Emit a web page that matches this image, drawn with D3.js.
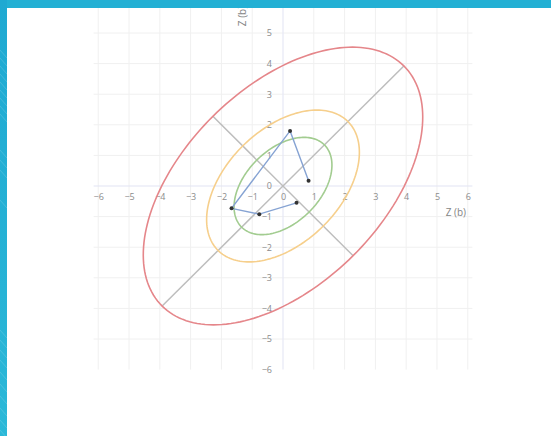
<!DOCTYPE html>
<html>
<head>
<meta charset="utf-8">
<script src="https://cdn.jsdelivr.net/npm/d3@7"></script>
<style>
    html, body { margin: 0; padding: 0; background: #fff; }
    svg { display: block; }
</style>
</head>
<body>
<svg id="chart"></svg>
<script>
// 数据
const xTicks = [-6, -5, -4, -3, -2, -1, 0, 1, 2, 3, 4, 5, 6];
const yTicks = [-6, -5, -4, -3, -2, -1, 0, 1, 2, 3, 4, 5];
const gridX = [-6, -5, -4, -3, -2, -1, 1, 2, 3, 4, 5, 6];
const gridY = [-5, -4, -3, -2, -1, 1, 2, 3, 4, 5];

// 点 (顺序 = 折线顺序)
const pointX = [0.83, 0.23, -1.67, -0.77, 0.44];
const pointY = [0.17, 1.80, -0.73, -0.92, -0.55];

// 椭圆: 半长轴, 半短轴, 角度
const ellipseName = ['inner', 'middle', 'outer'];
const ellipseA = [1.9, 2.98, 5.55];
const ellipseB = [1.2, 1.85, 3.22];
const ellipseAngle = [45, 45, 45];
const ellipseColor = ['#a2cc90', '#f6cf8c', '#e5868a'];

const axisTitle = 'Z (b)';

let width = 551, height = 436;
let svg = d3.select('#chart').attr('width', width).attr('height', height);

// 比例尺
let x = d3.scaleLinear().domain([-6.15, 6.15]).range([93.6, 472.4]);
let y = d3.scaleLinear().domain([-6.0, 6.0]).range([369.6, 2.4]);

let g = svg.append('g');

// 网格
g.selectAll('.gx').data(gridX).enter().append('line')
    .attr('x1', d => x(d)).attr('x2', d => x(d))
    .attr('y1', y.range()[1]).attr('y2', y.range()[0])
    .attr('stroke', '#f0f0f0').attr('stroke-width', 1);
g.selectAll('.gy').data(gridY).enter().append('line')
    .attr('y1', d => y(d)).attr('y2', d => y(d))
    .attr('x1', x.range()[0]).attr('x2', x.range()[1])
    .attr('stroke', '#f0f0f0').attr('stroke-width', 1);

// 零线
g.append('line')
    .attr('x1', x.range()[0]).attr('x2', x.range()[1])
    .attr('y1', y(0)).attr('y2', y(0))
    .attr('stroke', '#e2e4f4').attr('stroke-width', 1.2);
g.append('line')
    .attr('x1', x(0)).attr('x2', x(0))
    .attr('y1', y.range()[1]).attr('y2', y.range()[0])
    .attr('stroke', '#e6e8f5').attr('stroke-width', 1.2);

// 坐标轴 (标签在零线旁边)
let xAxis = g.append('g')
    .attr('transform', 'translate(0,' + y(0) + ')')
    .call(d3.axisBottom(x).tickValues(xTicks).tickSize(0).tickPadding(8));
let yAxis = g.append('g')
    .attr('transform', 'translate(' + x(0) + ',0)')
    .call(d3.axisLeft(y).tickValues(yTicks).tickSize(0).tickPadding(11));
[xAxis, yAxis].forEach(a => {
    a.select('.domain').remove();
    a.selectAll('text')
        .attr('font-family', '"Open Sans", sans-serif')
        .attr('font-size', 9)
        .attr('fill', '#8c8c8c');
});

// 轴标题
g.append('text')
    .attr('x', 466).attr('y', 216)
    .attr('text-anchor', 'end')
    .attr('font-family', '"Open Sans", sans-serif')
    .attr('font-size', 10)
    .attr('fill', '#858585')
    .text(axisTitle);
g.append('text')
    .attr('transform', 'translate(246,16) rotate(-90)')
    .attr('text-anchor', 'middle')
    .attr('font-family', '"Open Sans", sans-serif')
    .attr('font-size', 10)
    .attr('fill', '#858585')
    .text(axisTitle);

// 主轴线 (外椭圆的长轴与短轴)
let outer = 2;
let rad = ellipseAngle[outer] * Math.PI / 180;
let axesEnds = [
    [ellipseA[outer], rad],
    [ellipseB[outer], rad + Math.PI / 2]
];
axesEnds.forEach(function (e) {
    let dx = e[0] * Math.cos(e[1]), dy = e[0] * Math.sin(e[1]);
    g.append('line')
        .attr('x1', x(-dx)).attr('y1', y(-dy))
        .attr('x2', x(dx)).attr('y2', y(dy))
        .attr('stroke', '#bdbdbd').attr('stroke-width', 1.5);
});

// 椭圆
let line = d3.line().x(d => x(d[0])).y(d => y(d[1])).curve(d3.curveLinearClosed);
for (let i = 0; i < ellipseName.length; i++) {
    let t = ellipseAngle[i] * Math.PI / 180;
    let pts = [];
    for (let k = 0; k < 180; k++) {
        let s = k / 180 * 2 * Math.PI;
        let u = ellipseA[i] * Math.cos(s), v = ellipseB[i] * Math.sin(s);
        pts.push([u * Math.cos(t) - v * Math.sin(t), u * Math.sin(t) + v * Math.cos(t)]);
    }
    g.append('path')
        .attr('class', 'ellipse-' + ellipseName[i])
        .attr('d', line(pts))
        .attr('fill', 'none')
        .attr('stroke', ellipseColor[i])
        .attr('stroke-width', 1.6);
}

// 折线和点
let pts = pointX.map((v, i) => [v, pointY[i]]);
g.append('path')
    .attr('d', d3.line().x(d => x(d[0])).y(d => y(d[1]))(pts))
    .attr('fill', 'none')
    .attr('stroke', '#86a3d3')
    .attr('stroke-width', 1.4);
g.selectAll('.pt').data(pts).enter().append('circle')
    .attr('cx', d => x(d[0])).attr('cy', d => y(d[1]))
    .attr('r', 2)
    .attr('fill', '#333');

// 蓝色边框
let defs = svg.append('defs');
let grad = defs.append('linearGradient').attr('id', 'edge')
    .attr('x1', 0).attr('y1', 0).attr('x2', 0).attr('y2', 1);
grad.append('stop').attr('offset', '0%').attr('stop-color', '#1fa9d2');
grad.append('stop').attr('offset', '100%').attr('stop-color', '#2bb8d8');
svg.append('rect').attr('x', 0).attr('y', 0).attr('width', width).attr('height', 8).attr('fill', '#23b0d4');
svg.append('rect').attr('x', 0).attr('y', 0).attr('width', 7).attr('height', height).attr('fill', 'url(#edge)');
// 边框上的浅色斜纹
let streaks = [50, 58, 66, 74, 82, 90, 98, 106, 114, 150, 160, 170, 200, 330, 340, 350, 360, 372, 384, 396, 408, 420, 430];
svg.append('g').selectAll('line').data(streaks).enter().append('line')
    .attr('x1', 0).attr('y1', d => d).attr('x2', 7).attr('y2', d => d + 8)
    .attr('stroke', '#ffffff').attr('stroke-opacity', 0.2).attr('stroke-width', 0.8);
</script>
</body>
</html>
